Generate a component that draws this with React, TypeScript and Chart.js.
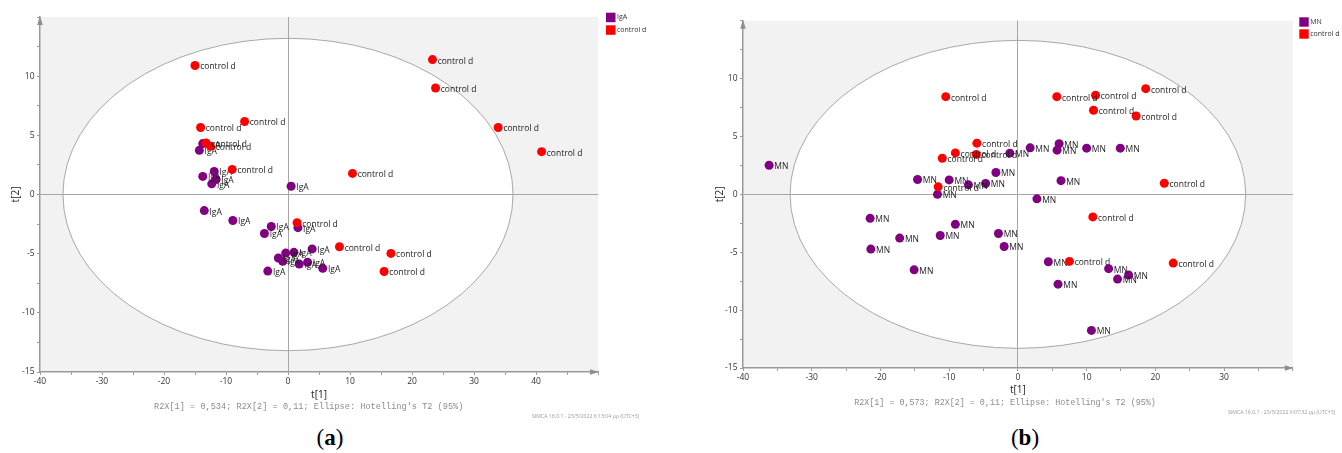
import React, { useEffect, useRef } from 'react';
import { Chart, registerables } from 'chart.js';

Chart.register(...registerables);

// ---- Panel (a): IgA vs control d, PCA scores t[1] / t[2] ----
const igaT1 = [-14.3, -13.75, -13.75, -11.9, -11.6, -12.3, 0.5, -13.5, -8.9, -2.7, -3.8, 1.6, 3.9, -0.37, 0.96, -1.55, -0.86, 1.82, 3.16, 5.6, -3.26];
const igaT2 = [3.73, 4.3, 1.53, 1.95, 1.27, 0.9, 0.7, -1.36, -2.2, -2.7, -3.3, -2.8, -4.6, -4.95, -4.89, -5.37, -5.65, -5.88, -5.73, -6.24, -6.47];
const ctrlAT1 = [-15.0, 23.3, 23.8, -14.1, -7.0, 33.9, 40.9, -13.2, -12.5, -9.0, 10.4, 1.46, 8.3, 16.6, 15.5];
const ctrlAT2 = [10.9, 11.4, 9.0, 5.66, 6.17, 5.66, 3.62, 4.36, 4.07, 2.12, 1.78, -2.38, -4.42, -4.98, -6.51];
const ellipseA = { a: 36.3, b: 13.2 };
const summaryA = "R2X[1] = 0,534; R2X[2] = 0,11; Ellipse: Hotelling's T2 (95%)";
const stampA = 'SIMCA 16.0.1 - 23/5/2022 6:13:04 μμ (UTC+3)';

// ---- Panel (b): MN vs control d ----
const mnT1 = [-36.2, -14.6, -10.0, -11.7, -7.2, -4.7, -3.2, -1.17, 1.78, 6.0, 5.7, 10.0, 14.9, 6.27, 2.77, -21.5, -9.1, -17.2, -11.3, -2.83, -2.0, -21.4, -15.1, 4.43, 13.2, 14.5, 16.1, 5.84, 10.7];
const mnT2 = [2.51, 1.28, 1.25, 0.0, 0.82, 0.94, 1.89, 3.56, 4.02, 4.37, 3.82, 3.99, 3.99, 1.18, -0.39, -2.07, -2.59, -3.78, -3.55, -3.38, -4.5, -4.73, -6.52, -5.82, -6.42, -7.32, -6.97, -7.76, -11.75];
const ctrlBT1 = [-10.5, 5.66, 11.3, 18.6, 11.0, 17.2, -5.97, -9.1, -6.05, -11.0, -11.6, 21.3, 10.9, 7.5, 22.6];
const ctrlBT2 = [8.44, 8.44, 8.56, 9.13, 7.26, 6.77, 4.42, 3.58, 3.45, 3.12, 0.65, 0.96, -1.95, -5.79, -5.94];
const ellipseB = { a: 33.15, b: 13.3 };
const summaryB = "R2X[1] = 0,573; R2X[2] = 0,11; Ellipse: Hotelling's T2 (95%)";
const stampB = 'SIMCA 16.0.1 - 23/5/2022 6:07:32 μμ (UTC+3)';

const PURPLE = '#800080';
const RED = '#ff0000';
const SANS = "'Open Sans', 'Noto Sans', sans-serif";

const toPoints = (xs: number[], ys: number[]) => xs.map((x, i) => ({ x, y: ys[i] }));

// Grey plot area with the white confidence ellipse centred on the origin
const backdropPlugin = {
  id: 'backdrop',
  beforeDraw(chart: any, _args: any, opts: any) {
    const { ctx, chartArea: a, scales } = chart;
    const cx = scales.x.getPixelForValue(0);
    const cy = scales.y.getPixelForValue(0);
    const rx = scales.x.getPixelForValue(opts.a) - cx;
    const ry = cy - scales.y.getPixelForValue(opts.b);
    ctx.save();
    ctx.fillStyle = '#f2f2f2';
    ctx.fillRect(a.left, a.top, a.right - a.left, a.bottom - a.top);
    ctx.beginPath();
    ctx.ellipse(cx, cy, rx, ry, 0, 0, Math.PI * 2);
    ctx.fillStyle = '#ffffff';
    ctx.fill();
    ctx.strokeStyle = '#a8a8a8';
    ctx.lineWidth = 1;
    ctx.stroke();
    ctx.restore();
  },
};

// Arrow heads at the ends of both axes
const arrowPlugin = {
  id: 'axisArrows',
  afterDraw(chart: any) {
    const { ctx, chartArea: a } = chart;
    ctx.save();
    ctx.fillStyle = '#8f8f8f';
    ctx.beginPath();
    ctx.moveTo(a.right + 1, a.bottom);
    ctx.lineTo(a.right - 8, a.bottom - 2.8);
    ctx.lineTo(a.right - 8, a.bottom + 2.8);
    ctx.closePath();
    ctx.fill();
    ctx.beginPath();
    ctx.moveTo(a.left, a.top - 1);
    ctx.lineTo(a.left - 2.8, a.top + 8);
    ctx.lineTo(a.left + 2.8, a.top + 8);
    ctx.closePath();
    ctx.fill();
    ctx.restore();
  },
};

// Each point carries its class name as a text label on its right
const pointLabelPlugin = {
  id: 'pointLabels',
  afterDatasetDraw(chart: any, args: any) {
    const { ctx } = chart;
    const ds = chart.data.datasets[args.index];
    ctx.save();
    ctx.font = `8.5px ${SANS}`;
    ctx.fillStyle = '#1c1c1c';
    ctx.textAlign = 'left';
    ctx.textBaseline = 'middle';
    args.meta.data.forEach((el: any) => {
      ctx.fillText(ds.label, el.x + 5.2, el.y + 1.5);
    });
    ctx.restore();
  },
};

// Small square-swatch legend in the top-right corner
const legendPlugin = {
  id: 'swatchLegend',
  afterDraw(chart: any, _args: any, opts: any) {
    const { ctx } = chart;
    ctx.save();
    ctx.font = `7px ${SANS}`;
    ctx.textAlign = 'left';
    ctx.textBaseline = 'middle';
    chart.data.datasets.forEach((ds: any, i: number) => {
      const y = opts.y + i * opts.step;
      ctx.fillStyle = ds.backgroundColor;
      ctx.fillRect(opts.x, y, opts.size, opts.size);
      ctx.fillStyle = '#333';
      ctx.fillText(ds.label, opts.x + opts.size + 1.5, y + opts.size / 2);
    });
    ctx.restore();
  },
};

type PlotProps = {
  left: number;
  width: number;
  height: number;
  groupLabel: string;
  groupT1: number[];
  groupT2: number[];
  ctrlT1: number[];
  ctrlT2: number[];
  xMax: number;
  ellipse: { a: number; b: number };
  area: { left: number; top: number; right: number; bottom: number };
  yAxisWidth: number;
  xAxisHeight: number;
  legend: { x: number; y: number; size: number; step: number };
};

function ScorePlot(p: PlotProps) {
  const ref = useRef<HTMLCanvasElement | null>(null);

  useEffect(() => {
    if (!ref.current) return;
    const tickFont = { family: SANS, size: 8.5 };
    const titleFont = { family: SANS, size: 10 };
    const gridColor = (ctx: any) => (ctx.tick && ctx.tick.value === 0 ? '#a6a6a6' : 'rgba(0,0,0,0)');

    const chart = new Chart(ref.current, {
      type: 'scatter',
      data: {
        datasets: [
          {
            label: p.groupLabel,
            data: toPoints(p.groupT1, p.groupT2),
            backgroundColor: PURPLE,
            borderWidth: 0,
            pointRadius: 4.5,
            order: 2,
          },
          {
            label: 'control d',
            data: toPoints(p.ctrlT1, p.ctrlT2),
            backgroundColor: RED,
            borderWidth: 0,
            pointRadius: 4.5,
            order: 1,
          },
        ],
      },
      options: {
        responsive: false,
        animation: false,
        devicePixelRatio: 1,
        layout: {
          padding: {
            left: p.area.left - p.yAxisWidth,
            top: p.area.top,
            right: p.width - p.area.right,
            bottom: p.height - p.area.bottom - p.xAxisHeight,
          },
        },
        plugins: {
          legend: { display: false },
          tooltip: { enabled: false },
          backdrop: p.ellipse,
          swatchLegend: p.legend,
        } as any,
        scales: {
          x: {
            type: 'linear',
            min: -40,
            max: p.xMax,
            afterFit: (s: any) => {
              s.height = p.xAxisHeight;
            },
            ticks: {
              stepSize: 5,
              autoSkip: false,
              maxRotation: 0,
              color: '#333',
              font: tickFont,
              padding: 1,
              callback: (v: any) => (v % 10 === 0 && v < p.xMax ? String(v) : ''),
            },
            grid: { color: gridColor, tickColor: '#999', tickLength: 3, lineWidth: 1 },
            border: { display: true, color: '#999', width: 1.5 },
            title: { display: true, text: 't[1]', color: '#222', font: titleFont, padding: 0 },
          },
          y: {
            type: 'linear',
            min: -15,
            max: 15,
            afterFit: (s: any) => {
              s.width = p.yAxisWidth;
            },
            ticks: {
              stepSize: 2.5,
              autoSkip: false,
              color: '#333',
              font: tickFont,
              padding: 2.5,
              callback: (v: any) => (v % 5 === 0 && v < 15 ? String(v) : ''),
            },
            grid: { color: gridColor, tickColor: '#999', tickLength: 3, lineWidth: 1 },
            border: { display: true, color: '#999', width: 1.5 },
            title: { display: true, text: 't[2]', color: '#222', font: titleFont, padding: 0 },
          },
        },
      },
      plugins: [backdropPlugin, arrowPlugin, pointLabelPlugin, legendPlugin],
    } as any);

    return () => chart.destroy();
  }, []);

  return (
    <canvas
      ref={ref}
      width={p.width}
      height={p.height}
      style={{ position: 'absolute', left: p.left, top: 0, width: p.width, height: p.height, display: 'block' }}
    />
  );
}

const summaryStyle = (cx: number, cy: number, size: number): React.CSSProperties => ({
  position: 'absolute',
  left: cx,
  top: cy - 6,
  transform: 'translateX(-50%)',
  fontFamily: "'Liberation Mono', 'DejaVu Sans Mono', monospace",
  fontSize: size,
  lineHeight: '12px',
  color: '#8c8c8c',
  whiteSpace: 'nowrap',
});

const stampStyle = (x: number, cy: number): React.CSSProperties => ({
  position: 'absolute',
  left: x,
  top: cy - 4,
  fontFamily: SANS,
  fontSize: 5.2,
  lineHeight: '8px',
  color: '#9a9a9a',
  whiteSpace: 'nowrap',
});

const captionStyle = (cx: number): React.CSSProperties => ({
  position: 'absolute',
  left: cx,
  top: 424,
  transform: 'translateX(-50%)',
  fontFamily: "'Liberation Serif', 'DejaVu Serif', serif",
  fontSize: 23,
  lineHeight: '28px',
  color: '#000',
  whiteSpace: 'nowrap',
});

export default function App() {
  return (
    <div style={{ position: 'absolute', left: 0, top: 0, width: 1342, height: 453, background: '#fff', overflow: 'hidden' }}>
      <ScorePlot
        left={0}
        width={660}
        height={410}
        groupLabel="IgA"
        groupT1={igaT1}
        groupT2={igaT2}
        ctrlT1={ctrlAT1}
        ctrlT2={ctrlAT2}
        xMax={50}
        ellipse={ellipseA}
        area={{ left: 40, top: 17, right: 598, bottom: 372 }}
        yAxisWidth={30}
        xAxisHeight={29}
        legend={{ x: 606, y: 12.7, size: 9.5, step: 12.6 }}
      />
      <ScorePlot
        left={680}
        width={662}
        height={410}
        groupLabel="MN"
        groupT1={mnT1}
        groupT2={mnT2}
        ctrlT1={ctrlBT1}
        ctrlT2={ctrlBT2}
        xMax={40}
        ellipse={ellipseB}
        area={{ left: 63, top: 20.7, right: 612.8, bottom: 368 }}
        yAxisWidth={29}
        xAxisHeight={28}
        legend={{ x: 619.3, y: 17.3, size: 9.4, step: 12 }}
      />
      <div style={summaryStyle(308.7, 407, 8.6)}>{summaryA}</div>
      <div style={summaryStyle(1005, 403, 8.4)}>{summaryB}</div>
      <div style={stampStyle(532, 416)}>{stampA}</div>
      <div style={stampStyle(1228, 412)}>{stampB}</div>
      <div style={captionStyle(330)}>
        (<b>a</b>)
      </div>
      <div style={captionStyle(1025)}>
        (<b>b</b>)
      </div>
    </div>
  );
}
